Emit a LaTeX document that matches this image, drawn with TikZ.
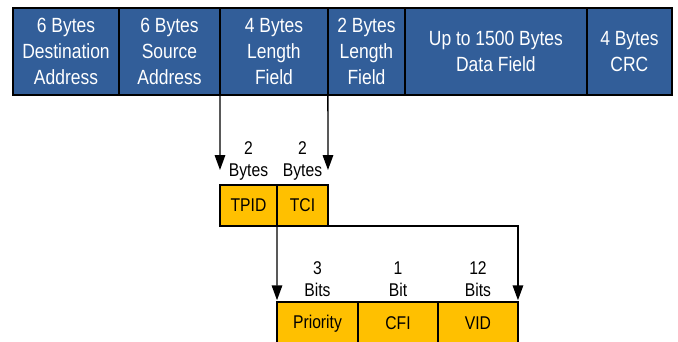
\documentclass[tikz,border=0pt]{standalone}
\usepackage{fontspec}
\setmainfont{Liberation Sans}[FakeStretch=0.85]
\usetikzlibrary{positioning,arrows.meta}
\definecolor{azul}{RGB}{50,94,153}
\definecolor{ambar}{RGB}{255,192,0}
\tikzset{
	cabecera/.style={rectangle, draw=black, line width=0.9pt, fill=azul, 
		text=white, font=\fontsize{11.7}{14.7}\selectfont, align=center, 
		minimum height=1.74cm, inner sep=0pt, outer sep=0pt},
	campo/.style={rectangle, draw=black, line width=0.9pt, fill=ambar, 
		font=\fontsize{10.5}{12.5}\selectfont, minimum height=0.82cm, 
		inner sep=0pt, outer sep=0pt},
	rotulo/.style={font=\fontsize{10.5}{12.5}\selectfont, align=center, inner sep=1pt},
	flecha/.style={line width=0.8pt, -{Triangle[length=8.5pt,width=6pt]}}
}

\begin{document}
\begin{tikzpicture}[x=0.02cm, y=-0.02cm]
			\useasboundingbox (0,0) rectangle (678,341);
			\clip (0,0) rectangle (678,341);
			
			% trama ethernet
			\node[cabecera, minimum width=2.12cm, anchor=north west] (dst) at (13,8) {6 Bytes\\Destination\\Address};
			\node[cabecera, minimum width=2.02cm, right=0pt of dst] (src) {6 Bytes\\Source\\Address};
			\node[cabecera, minimum width=2.16cm, right=0pt of src] (len4) {4 Bytes\\Length\\Field};
			\node[cabecera, minimum width=1.54cm, right=0pt of len4] (len2) {2 Bytes\\Length\\Field};
			\node[cabecera, minimum width=3.64cm, right=0pt of len2] (data) {Up to 1500 Bytes\\Data Field};
			\node[cabecera, minimum width=1.70cm, right=0pt of data] (crc) {4 Bytes\\CRC};
			
			% etiqueta 802.1Q
			\node[campo, minimum width=1.14cm, anchor=north west] (tpid) at (220,185) {TPID};
			\node[campo, minimum width=1.02cm, right=0pt of tpid] (tci) {TCI};
			\node[rotulo, above=1.5pt of tpid] (ltpid) {2\\Bytes};
			\node[rotulo, above=1.5pt of tci] (ltci) {2\\Bytes};
			
			% campos del TCI
			\node[campo, minimum width=1.62cm, minimum height=0.86cm, anchor=north west] (prio) at (277,302) {Priority};
			\node[campo, minimum width=1.60cm, minimum height=0.86cm, right=0pt of prio] (cfi) {CFI};
			\node[campo, minimum width=1.60cm, minimum height=0.86cm, right=0pt of cfi] (vid) {VID};
			\node[rotulo, above=2pt of prio] (lprio) {3\\Bits};
			\node[rotulo, above=2pt of cfi] (lcfi) {1\\Bit};
			\node[rotulo, above=2pt of vid] (lvid) {12\\Bits};
			
			\draw[flecha, shorten >=0.3cm] (len4.south west) -- (tpid.north west);
			\draw[flecha, shorten >=0.3cm] (len4.south east) -- (tci.north east);
			\draw[flecha, shorten >=1pt] (tpid.south east) -- (prio.north west);
			\draw[flecha, shorten >=1pt] (tci.south east) -| (vid.north east);
		\end{tikzpicture}
\end{document}
